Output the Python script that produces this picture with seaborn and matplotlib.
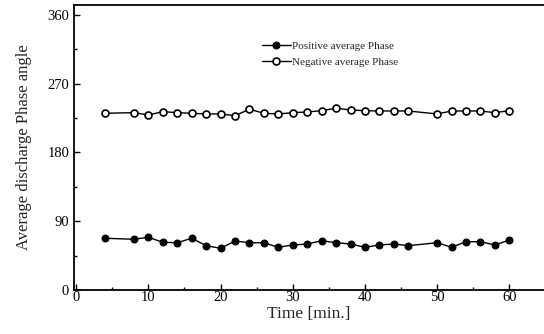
import matplotlib
matplotlib.use("Agg")
import matplotlib.pyplot as plt
import seaborn as sns
import pandas as pd
from matplotlib.ticker import MultipleLocator

time_min = [4, 8, 10, 12, 14, 16, 18, 20, 22, 24, 26, 28, 30, 32, 34, 36, 38, 40,
            42, 44, 46, 50, 52, 54, 56, 58, 60]
positive_phase = [67.7, 66.4, 69.0, 62.4, 61.9, 67.7, 58.0, 54.6, 64.1, 61.9, 61.9,
                  55.9, 58.9, 60.2, 64.5, 61.9, 60.2, 55.9, 58.9, 60.2, 58.0, 61.9,
                  55.9, 63.2, 63.2, 58.9, 65.4]
negative_phase = [231.3, 232.1, 229.1, 233.4, 232.1, 231.3, 230.4, 230.4, 228.2,
                  236.5, 231.3, 230.4, 232.1, 233.0, 234.7, 237.9, 235.6, 234.7,
                  234.3, 234.3, 234.3, 230.4, 234.3, 234.3, 234.3, 232.1, 234.7]
series_names = ["Positive average Phase", "Negative average Phase"]

sns.set_theme(style="ticks")
plt.rcParams["font.family"] = ["Liberation Serif", "DejaVu Serif"]

fig = plt.figure(figsize=(5.44, 3.34), dpi=100)
ax = fig.add_axes([74 / 544, 44 / 334, 470 / 544, 285 / 334])

df_pos = pd.DataFrame({"t": time_min, "v": positive_phase})
df_neg = pd.DataFrame({"t": time_min, "v": negative_phase})

sns.lineplot(data=df_pos, x="t", y="v", ax=ax, color="black", lw=1.0,
             marker="o", markersize=5, markerfacecolor="black",
             markeredgecolor="black", label=series_names[0])
sns.lineplot(data=df_neg, x="t", y="v", ax=ax, color="black", lw=1.0,
             marker="o", markersize=5, markerfacecolor="white",
             markeredgecolor="black", markeredgewidth=1.2, label=series_names[1])

ax.set_xlim(-0.3, 64.8)
ax.set_ylim(0, 373)
ax.xaxis.set_major_locator(MultipleLocator(10))
ax.xaxis.set_minor_locator(MultipleLocator(5))
ax.yaxis.set_major_locator(MultipleLocator(90))
ax.yaxis.set_minor_locator(MultipleLocator(45))
ax.tick_params(which="both", direction="in", colors="black", labelsize=10.5, width=1.0)
ax.tick_params(which="major", length=4)
ax.tick_params(which="minor", length=2)
ax.tick_params(axis="x", pad=1)
for s in ["left", "top", "bottom"]:
    ax.spines[s].set_color("black")
    ax.spines[s].set_linewidth(1.3)
ax.spines["right"].set_visible(False)

ax.set_xlabel("Time [min.]", fontsize=12.5, labelpad=1)
ax.set_ylabel("Average discharge Phase angle", fontsize=12, labelpad=11)

leg = ax.legend(loc="upper left", bbox_to_anchor=(0.39, 0.89), frameon=False,
                fontsize=8, handlelength=2.6, handletextpad=0.1,
                borderaxespad=0, labelspacing=0.6)

fig.savefig("out.png", dpi=100)
